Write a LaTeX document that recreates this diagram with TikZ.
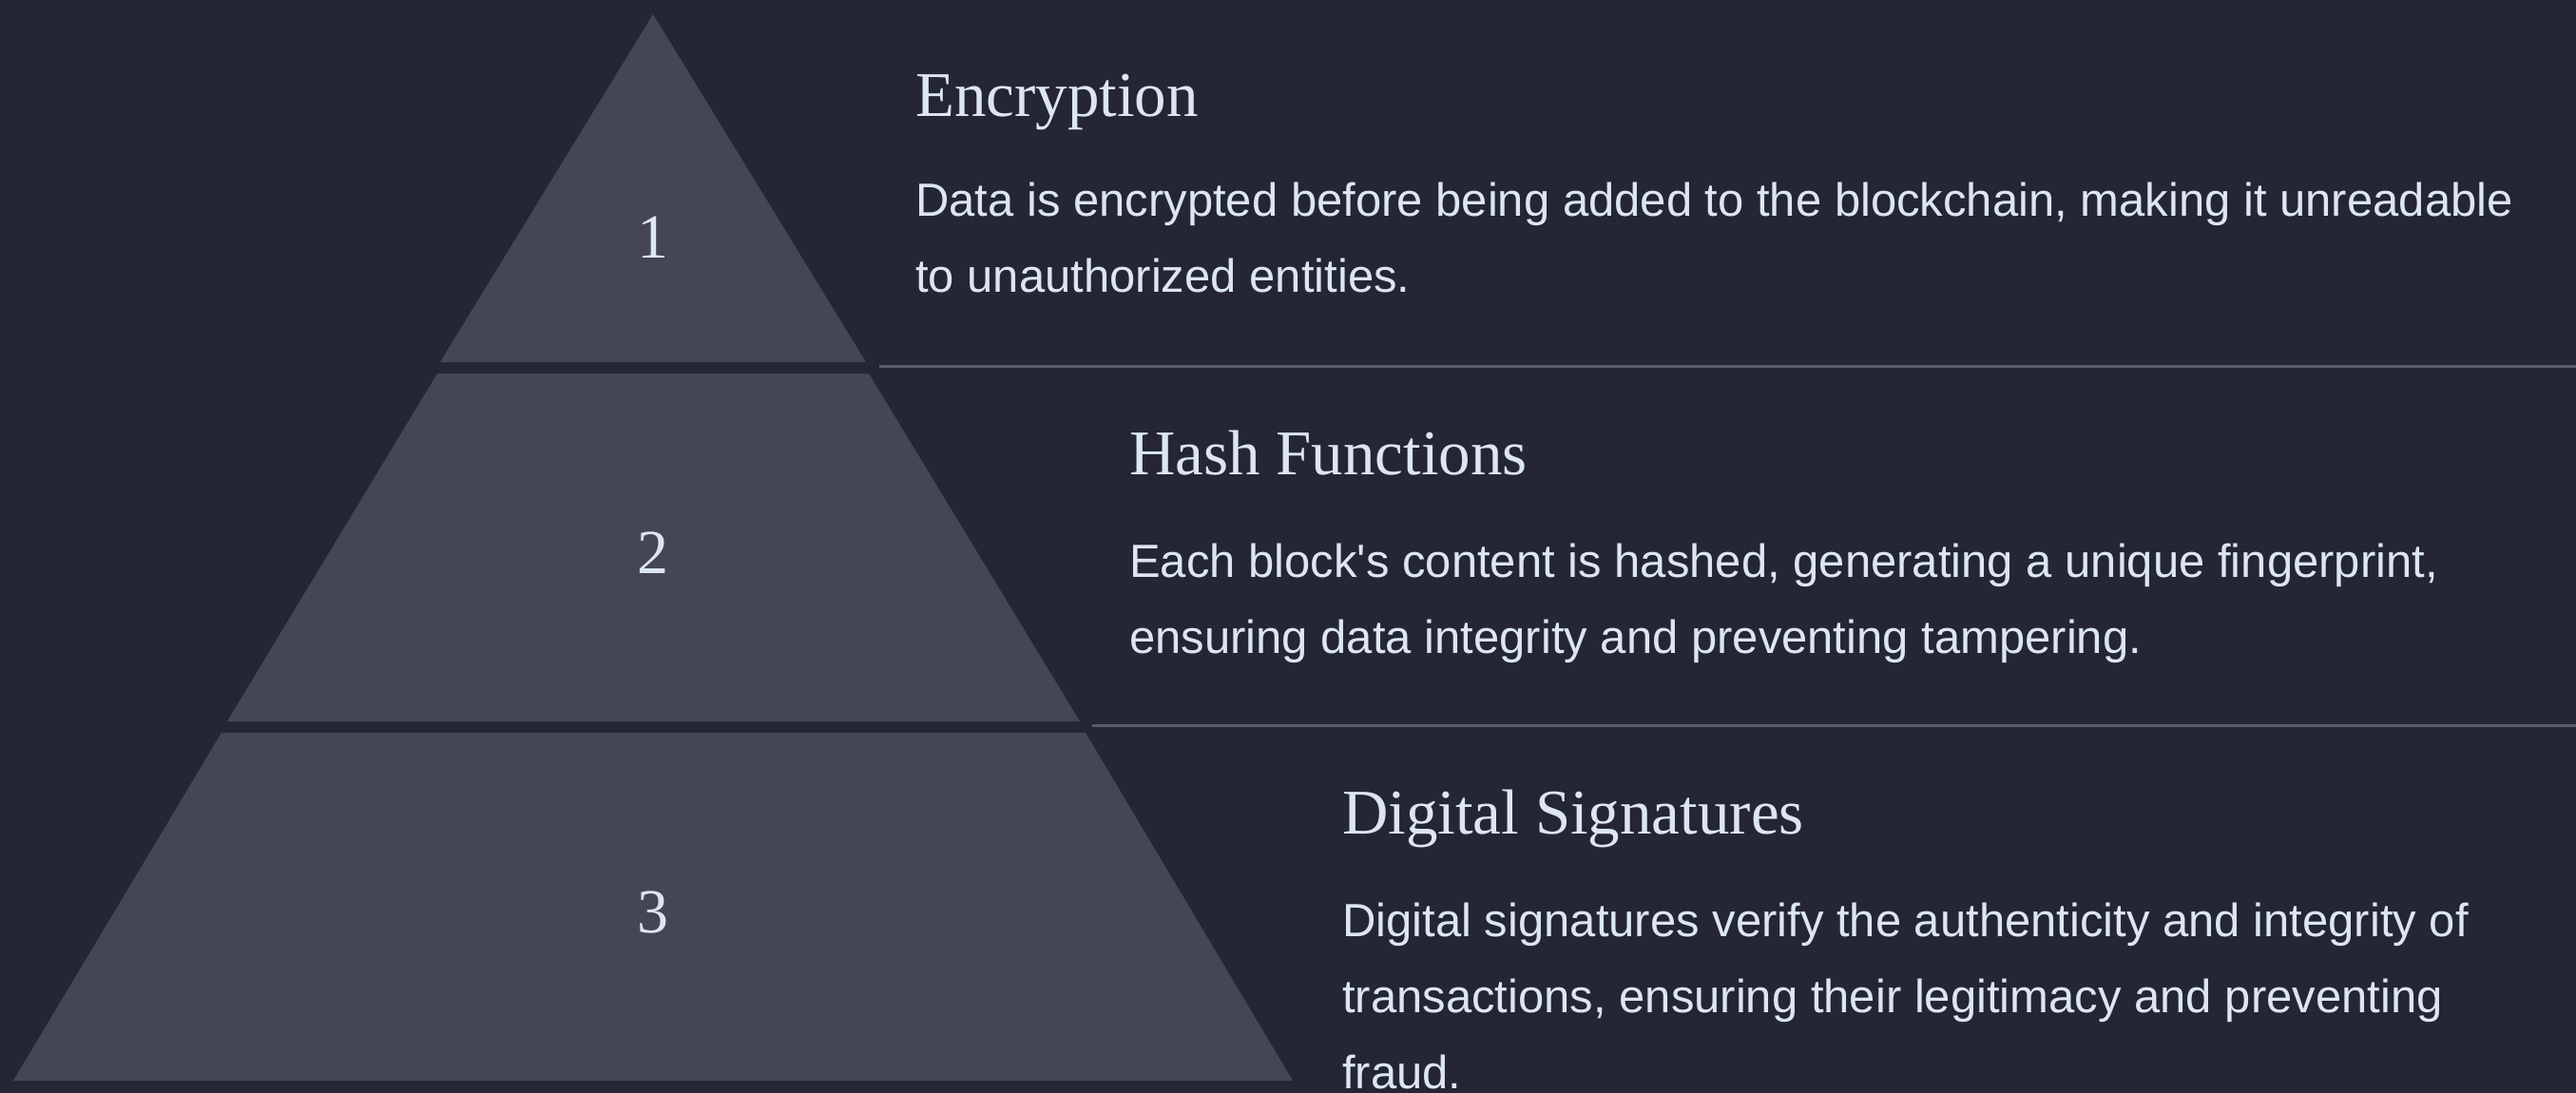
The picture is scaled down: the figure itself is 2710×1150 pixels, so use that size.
\documentclass[tikz,border=0pt]{standalone}
\usepackage{fontspec}
\setmainfont{Liberation Serif}
\newfontfamily\bodyfont{Liberation Sans}
\definecolor{bgdark}{HTML}{242633}
\definecolor{tierfill}{HTML}{444653}
\definecolor{textlight}{HTML}{DCE6F0}
\definecolor{ruleline}{HTML}{5A5C68}
\begin{document}
\begin{tikzpicture}[x=1pt,y=-1pt,
    tier/.style={fill=tierfill},
    tiernum/.style={text=textlight,inner sep=0pt,anchor=base,
      font=\fontsize{66}{66}\selectfont},
    tiertitle/.style={text=textlight,inner sep=0pt,anchor=base west,
      font=\fontsize{67}{67}\selectfont},
    tierbody/.style={text=textlight,inner sep=0pt,anchor=base west,
      align=left,font=\bodyfont\fontsize{49}{80}\selectfont},
    divider/.style={draw=ruleline,line width=3pt}]
  % Background
  \useasboundingbox (0,0) rectangle (2710,1150);
  \fill[bgdark] (0,0) rectangle (2710,1150);
  % Draw tiers
  \fill[tier] (687,15) -- (911,381) -- (463,381) -- cycle;
  \fill[tier] (460,393) -- (914,393) -- (1136,759) -- (239,759) -- cycle;
  \fill[tier] (233,771) -- (1142,771) -- (1360,1137) -- (14,1137) -- cycle;
  % Tier numbers
  \node[tiernum] (num1) at (687,272) {1};
  \node[tiernum] (num2) at (687,603) {2};
  \node[tiernum] (num3) at (687,981) {3};
  % Dividers
  \coordinate (div1a) at (925,385.5);
  \coordinate (div1b) at (2710,385.5);
  \coordinate (div2a) at (1149,763.5);
  \coordinate (div2b) at (2710,763.5);
  \draw[divider] (div1a) -- (div1b);
  \draw[divider] (div2a) -- (div2b);
  % Titles
  \node[tiertitle] (enctitle) at (963,123) {Encryption};
  \node[tiertitle] (hashtitle) at (1188,499) {Hash Functions};
  \node[tiertitle] (sigtitle) at (1412,877) {Digital Signatures};
  % Descriptions (base = last line)
  \node[tierbody] (encbody) at (963,308)
    {Data is encrypted before being added to the blockchain, making it unreadable\\
     to unauthorized entities.};
  \node[tierbody] (hashbody) at (1188,687)
    {Each block's content is hashed, generating a unique fingerprint,\\
     ensuring data integrity and preventing tampering.};
  \node[tierbody] (sigbody) at (1412,1145)
    {Digital signatures verify the authenticity and integrity of\\
     transactions, ensuring their legitimacy and preventing\\
     fraud.};
\end{tikzpicture}
\end{document}
